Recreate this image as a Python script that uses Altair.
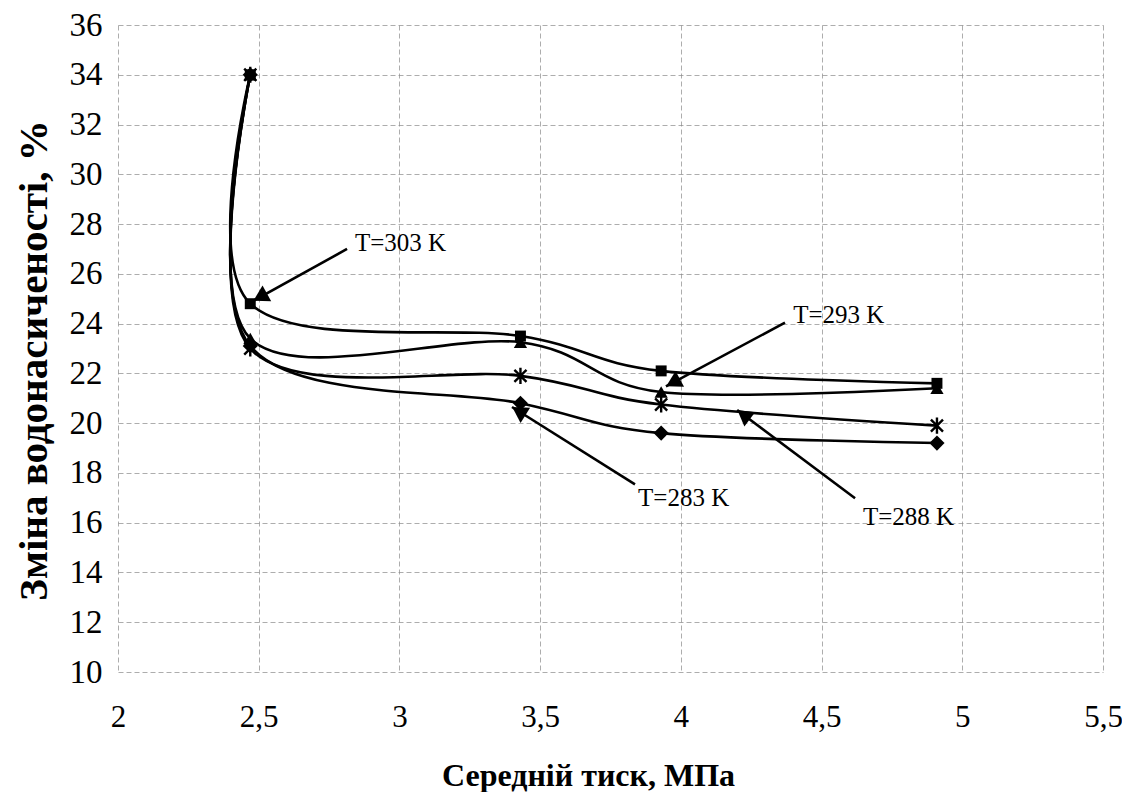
import math
import altair as alt
import pandas as pd

# ---- data ----
pressure = [2.47, 2.47, 3.43, 3.93, 4.91]
t303 = [34, 24.8, 23.5, 22.1, 21.6]      # squares
t293 = [34, 23.4, 23.25, 21.25, 21.4]    # triangles
t288 = [34, 23.0, 21.9, 20.75, 19.9]     # asterisks
t283 = [34, 23.1, 20.8, 19.6, 19.2]      # diamonds

series_names = ["T=303 K", "T=293 K", "T=288 K", "T=283 K"]
series_values = [t303, t293, t288, t283]

x_ticks = [2, 2.5, 3, 3.5, 4, 4.5, 5, 5.5]
y_ticks = list(range(10, 37, 2))

# annotations: label text position, arrow start, arrow tip (data coords)
ann_text = ["T=303 K", "T=293 K", "T=283 K", "T=288 K"]
ann_tx = [2.842, 4.399, 3.848, 4.647]
ann_ty = [27.22, 24.35, 16.98, 16.22]
ann_sx = [2.814, 4.370, 3.837, 4.619]
ann_sy = [27.0, 24.04, 17.54, 16.98]
ann_ex = [2.48, 3.947, 3.400, 4.200]
ann_ey = [24.91, 21.48, 20.65, 20.53]

W, H = 985, 647
XMIN, XMAX, YMIN, YMAX = 2, 5.5, 10, 36
px_x = W / (XMAX - XMIN)
px_y = H / (YMAX - YMIN)

rows = []
for name, vals in zip(series_names, series_values):
    for i, (p, v) in enumerate(zip(pressure, vals)):
        rows.append({"series": name, "idx": i, "p": p, "v": v})
df = pd.DataFrame(rows)

arows = []
for t, tx, ty, sx, sy, ex, ey in zip(ann_text, ann_tx, ann_ty, ann_sx, ann_sy, ann_ex, ann_ey):
    dx = (ex - sx) * px_x
    dy = -(ey - sy) * px_y
    L = math.hypot(dx, dy)
    ux, uy = dx / L, dy / L
    ang = math.degrees(math.atan2(dx, -dy)) % 360
    hx = ex - 8 * ux / px_x
    hy = ey + 8 * uy / px_y
    arows.append({"text": t, "tx": tx, "ty": ty, "sx": sx, "sy": sy,
                  "ex": ex, "ey": ey, "hx": hx, "hy": hy, "ang": ang})
adf = pd.DataFrame(arows)

FONT = "Liberation Serif, Times New Roman, serif"
GRID = dict(grid=True, gridColor="#8a8a8a", gridDash=[5, 3], gridWidth=1, gridOpacity=0.7)

xscale = alt.Scale(domain=[XMIN, XMAX], nice=False, zero=False)
yscale = alt.Scale(domain=[YMIN, YMAX], nice=False, zero=False)

xaxis = alt.Axis(values=x_ticks, labelExpr="replace(toString(datum.value), '.', ',')",
                 labelFont=FONT, labelFontSize=31, labelColor="black", labelPadding=30,
                 labelFlush=False, labelOverlap=False, ticks=False, domain=False, **GRID,
                 title="Середній тиск, МПа", titleFont=FONT, titleFontSize=32,
                 titleFontWeight="bold", titleColor="black",
                 titleX=470, titleY=103, titleBaseline="middle", titleAlign="center")
yaxis = alt.Axis(values=y_ticks, labelFont=FONT, labelFontSize=33, labelColor="black",
                 labelPadding=16, labelFlush=False, labelOverlap=False, ticks=False, domain=False,
                 **GRID,
                 title="Зміна водонасиченості, %", titleFont=FONT, titleFontSize=41,
                 titleFontWeight="bold", titleColor="black", titleAngle=270,
                 titleX=-84, titleY=335, titleBaseline="middle", titleAlign="center")

base = alt.Chart(df)

lines = base.mark_line(interpolate="cardinal", color="black", strokeWidth=2.6).encode(
    x=alt.X("p:Q", scale=xscale, axis=xaxis),
    y=alt.Y("v:Q", scale=yscale, axis=yaxis),
    detail="series:N",
    order=alt.Order("idx:Q"),
)

filled = base.transform_filter(alt.datum.series != "T=288 K").mark_point(
    filled=True, color="black", opacity=1).encode(
    x="p:Q", y="v:Q",
    shape=alt.Shape("series:N", legend=None,
                    scale=alt.Scale(domain=["T=303 K", "T=293 K", "T=283 K"],
                                    range=["square", "triangle-up", "diamond"])),
    size=alt.Size("series:N", legend=None,
                  scale=alt.Scale(domain=["T=303 K", "T=293 K", "T=283 K"],
                                  range=[120, 230, 230])),
)

asterisk = base.transform_filter(alt.datum.series == "T=288 K").mark_point(
    filled=False, color="black", size=260, strokeWidth=2.4, opacity=1,
    shape="M0,-1L0,1M-0.75,-0.75L0.75,0.75M-0.75,0.75L0.75,-0.75").encode(
    x="p:Q", y="v:Q")

abase = alt.Chart(adf)
arrows = abase.mark_rule(color="black", strokeWidth=2.6).encode(
    x="sx:Q", y="sy:Q", x2="ex:Q", y2="ey:Q")
heads = abase.mark_point(shape="triangle-up", filled=True, color="black", size=320, opacity=1).encode(
    x="hx:Q", y="hy:Q", angle=alt.Angle("ang:Q", scale=None))
labels = abase.mark_text(font=FONT, fontSize=25, align="left", baseline="middle", color="black").encode(
    x="tx:Q", y="ty:Q", text="text:N")

chart = alt.layer(lines, filled, asterisk, arrows, heads, labels).properties(
    width=W, height=H,
    autosize=alt.AutoSizeParams(type="none"),
    padding={"left": 110, "top": 17, "right": 19, "bottom": 120},
    background="white",
).configure_view(stroke=None)

chart.save("out.html", embed_options={"renderer": "svg", "actions": False})
